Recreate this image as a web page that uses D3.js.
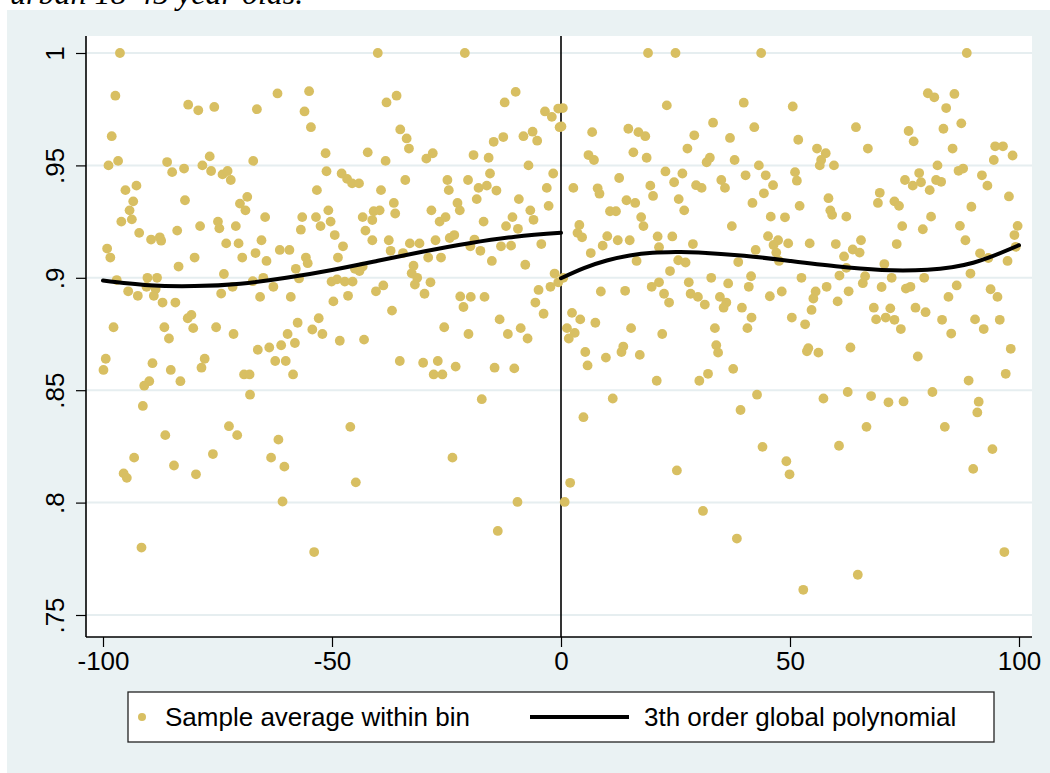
<!DOCTYPE html>
<html>
<head>
    <style>
        body {
            margin: 0;
            background: #ffffff;
            font-family: "Liberation Sans", Arial, Helvetica, sans-serif;
        }

        .tick text {
            font-size: 26px;
            fill: #000;
        }

        .tick line {
            stroke: #000;
            stroke-width: 1.2px;
        }

        .grid line {
            stroke: #e6eef0;
            stroke-width: 2px;
        }

        .legend-text {
            font-size: 26px;
            fill: #000;
        }
    </style>
</head>
<body>
    <div id="chart"></div>
    <script src="https://cdnjs.cloudflare.com/ajax/libs/d3/7.8.5/d3.min.js"></script>
    <script>
        // Bin averages, left of the cutoff
        const leftBins = [
            [-96.3,1.000],[-97.3,.981],[-98.1,.963],[-98.8,.950],[-96.7,.952],[-86.0,.9515],[-84.9,.947],[-95.1,.939],
            [-92.7,.941],[-93.4,.934],[-94.2,.930],[-96.0,.925],[-93.7,.926],[-92.1,.920],[-89.5,.917],[-87.6,.918],
            [-87.3,.9165],[-83.8,.921],[-99.1,.913],[-98.4,.909],[-83.5,.905],[-97.0,.899],[-90.3,.900],[-88.2,.900],
            [-94.5,.894],[-90.5,.896],[-88.5,.895],[-92.4,.892],[-88.9,.892],[-87.0,.889],[-84.2,.889],[-97.7,.878],
            [-86.6,.878],[-85.6,.873],[-99.4,.864],[-99.9,.859],[-89.2,.862],[-85.2,.859],[-89.9,.854],[-91.0,.852],
            [-83.1,.854],[-91.3,.843],[-86.4,.830],[-93.2,.820],[-95.5,.813],[-94.8,.811],[-84.5,.8165],[-91.6,.780],
            [-81.4,.977],[-79.2,.9745],[-75.7,.976],[-66.4,.975],[-82.3,.9486],[-78.3,.950],[-76.7,.954],[-76.4,.9475],
            [-73.9,.946],[-72.8,.9475],[-72.1,.9435],[-67.2,.952],[-82.1,.9345],[-70.1,.933],[-68.5,.936],[-68.9,.930],
            [-64.6,.927],[-78.8,.923],[-74.9,.925],[-74.6,.922],[-71.0,.923],[-73.1,.9153],[-70.4,.9153],[-65.4,.9167],
            [-80.0,.909],[-69.6,.909],[-66.7,.911],[-64.3,.9075],[-73.6,.9017],[-67.3,.8985],[-65.0,.900],[-71.7,.896],
            [-74.2,.893],[-62.8,.896],[-65.7,.8915],[-81.5,.882],[-80.7,.8835],[-80.3,.8776],[-75.3,.878],[-71.5,.875],
            [-66.2,.868],[-63.7,.869],[-62.4,.863],[-77.8,.864],[-78.5,.860],[-69.2,.857],[-68.0,.857],[-67.9,.848],
            [-72.5,.834],[-70.7,.830],[-76.0,.8216],[-79.7,.8126],[-63.3,.820],
            [-61.9,.982],[-55.0,.983],[-56.0,.974],[-54.6,.967],[-51.4,.9554],[-42.2,.9558],[-51.2,.9474],[-47.9,.9464],
            [-46.7,.944],[-45.6,.942],[-44.1,.942],[-53.3,.939],[-56.5,.927],[-53.5,.927],[-50.8,.930],[-50.3,.925],
            [-52.5,.923],[-56.8,.9214],[-49.4,.919],[-43.3,.927],[-42.7,.921],[-61.4,.9124],[-59.3,.9124],[-55.7,.909],
            [-55.3,.9065],[-57.9,.904],[-47.6,.914],[-48.7,.909],[-45.0,.904],[-43.3,.905],[-44.0,.903],[-57.2,.8997],
            [-50.1,.8983],[-48.9,.8993],[-47.2,.8983],[-45.5,.8983],[-59.0,.8915],[-49.7,.8895],[-46.5,.892],[-52.9,.882],
            [-57.5,.880],[-59.7,.875],[-54.3,.877],[-52.1,.875],[-58.1,.871],[-61.1,.870],[-48.3,.872],[-43.0,.8725],
            [-60.1,.863],[-58.5,.857],[-61.7,.828],[-60.4,.816],[-60.8,.8005],[-46.0,.8337],[-44.8,.809],[-53.9,.778],
            [-40.0,1.000],[-21.0,1.000],[-38.1,.978],[-35.9,.981],[-35.1,.966],[-33.7,.962],[-33.2,.9575],[-38.3,.952],
            [-29.4,.953],[-28.0,.9554],[-34.0,.9435],[-39.3,.939],[-24.8,.9435],[-24.5,.939],[-36.5,.9333],[-36.2,.9286],
            [-40.9,.9296],[-39.6,.930],[-41.2,.9257],[-28.3,.930],[-26.5,.925],[-25.2,.927],[-22.6,.9333],[-22.1,.930],
            [-41.2,.9167],[-37.6,.9167],[-33.0,.9153],[-30.9,.9153],[-27.4,.9167],[-24.3,.9177],[-23.3,.919],[-37.2,.912],
            [-34.5,.911],[-29.0,.909],[-26.2,.909],[-32.2,.9054],[-32.6,.902],[-31.4,.900],[-31.9,.897],[-28.5,.898],
            [-29.8,.8929],[-40.4,.894],[-38.8,.8966],[-36.9,.8854],[-25.5,.878],[-22.0,.8917],[-21.3,.887],[-35.2,.863],
            [-30.1,.8622],[-26.9,.863],[-27.8,.857],[-25.9,.857],[-23.0,.8605],[-23.7,.820],
            [-9.9,.9827],[-12.3,.978],[-3.5,.974],[-2.0,.9716],[-0.6,.9753],[-0.3,.967],[-8.2,.963],[-6.2,.965],
            [-5.2,.961],[-14.7,.9605],[-12.6,.9626],[-19.1,.9546],[-15.8,.9534],[-7.1,.950],[-1.7,.9464],[-20.3,.9435],
            [-18.0,.940],[-16.2,.941],[-15.5,.9464],[-18.4,.935],[-14.1,.9388],[-9.2,.935],[-3.1,.940],[-2.7,.932],
            [-6.7,.930],[-6.0,.9258],[-10.6,.927],[-12.0,.923],[-9.4,.9218],[-16.9,.925],[-18.9,.917],[-19.8,.914],
            [-17.6,.912],[-15.1,.9075],[-13.1,.914],[-10.9,.9143],[-7.8,.9058],[-4.3,.915],[-1.4,.9019],[-2.3,.896],
            [-0.6,.898],[-4.9,.8946],[-19.7,.8915],[-16.7,.8915],[-5.6,.889],[-3.8,.884],[-13.4,.8815],[-11.6,.875],
            [-8.8,.8776],[-7.3,.873],[-20.2,.875],[-14.5,.860],[-10.2,.8597],[-17.3,.846],[-9.5,.8003],[-13.8,.7874]
        ];

        // Bin averages, right of the cutoff
        const rightBins = [
            [19.0,1.000],[0.4,.9755],[0.1,.9673],[6.8,.9648],[14.7,.9663],[16.9,.9648],[18.4,.963],[6.0,.9546],
            [7.2,.9524],[15.8,.9558],[18.7,.9534],[2.7,.940],[8.0,.9398],[8.4,.9374],[12.7,.9444],[19.5,.941],
            [20.1,.9364],[14.3,.9345],[16.2,.9333],[10.7,.9296],[12.0,.9296],[17.5,.927],[18.0,.923],[4.0,.9235],
            [3.6,.920],[4.6,.918],[10.1,.9185],[9.1,.9143],[12.4,.9167],[15.0,.9167],[16.5,.9075],[6.5,.911],
            [0.5,.900],[8.7,.8939],[14.0,.8942],[19.8,.896],[2.4,.8844],[4.2,.8815],[7.5,.880],[1.3,.8776],
            [3.0,.8755],[1.7,.873],[15.3,.8776],[5.3,.867],[5.8,.861],[9.8,.8645],[13.2,.867],[13.6,.8694],
            [17.2,.8657],[11.3,.8463],[4.9,.838],[2.0,.8088],[0.8,.8003],
            [25.0,1.000],[23.1,.9767],[39.9,.9779],[33.2,.969],[29.1,.9634],[36.9,.9622],[27.6,.9575],[31.8,.9514],
            [32.5,.9534],[37.9,.9524],[22.8,.9473],[26.5,.9464],[24.7,.9425],[29.5,.9412],[30.7,.940],[35.0,.9435],
            [35.8,.940],[40.3,.9456],[25.7,.935],[26.9,.930],[37.3,.923],[21.1,.9184],[24.3,.9184],[21.4,.9136],
            [28.8,.915],[25.6,.9078],[27.2,.9068],[23.8,.903],[38.7,.907],[21.4,.898],[27.9,.898],[32.8,.900],
            [36.5,.8975],[41.0,.896],[22.5,.8929],[23.6,.889],[28.3,.8929],[29.9,.8915],[34.7,.8915],[36.1,.889],
            [35.5,.8867],[39.5,.8867],[31.4,.8881],[40.7,.8776],[33.6,.8776],[22.1,.875],[33.9,.870],[34.3,.8667],
            [37.6,.8595],[32.1,.8573],[30.2,.8542],[20.9,.8542],[39.2,.8412],[25.3,.8143],[31.0,.7963],[38.4,.784],
            [43.7,1.000],[50.6,.9762],[42.2,.967],[51.8,.9614],[55.9,.9575],[57.8,.9554],[56.8,.9524],[56.5,.950],
            [59.6,.950],[43.2,.950],[44.7,.9456],[46.3,.9412],[44.3,.9376],[41.8,.9333],[51.1,.947],[51.5,.9432],
            [52.1,.932],[58.4,.9354],[58.8,.930],[59.2,.928],[45.8,.9272],[48.9,.9269],[45.2,.9185],[47.4,.9167],
            [46.4,.9146],[47.0,.9112],[47.6,.9075],[49.6,.9153],[54.3,.9153],[60.0,.915],[42.5,.9124],[61.8,.9095],
            [52.5,.900],[41.5,.9007],[45.6,.8918],[48.2,.8939],[50.4,.8823],[53.3,.8793],[54.7,.8857],[55.1,.8908],
            [55.6,.8939],[58.0,.896],[60.4,.8895],[60.8,.901],[41.6,.8823],[53.7,.8673],[54.0,.8687],[56.2,.8667],
            [42.8,.848],[57.3,.8463],[44.0,.8248],[60.7,.8253],[49.2,.8184],[49.9,.8126],[52.9,.7612],
            [80.1,.9821],[81.5,.9803],[64.4,.967],[67.0,.9575],[75.9,.9653],[77.0,.9607],[82.2,.950],[75.1,.9435],
            [76.8,.941],[78.2,.9466],[78.6,.9425],[80.5,.939],[81.9,.9435],[69.6,.9378],[69.2,.9333],[72.8,.934],
            [73.8,.932],[62.3,.9272],[74.5,.923],[79.0,.9216],[80.8,.9272],[65.5,.9167],[63.7,.9126],[65.2,.9112],
            [73.3,.915],[70.6,.9061],[62.3,.9044],[66.4,.9007],[65.9,.8976],[62.8,.894],[72.2,.900],[70.0,.8959],
            [75.3,.8952],[76.3,.896],[79.3,.900],[68.3,.8867],[71.9,.8864],[68.8,.8815],[70.9,.8823],[72.8,.8813],
            [74.2,.8772],[77.4,.8867],[79.6,.8847],[63.2,.869],[77.9,.865],[62.6,.8492],[67.7,.8474],[71.5,.8446],
            [74.8,.845],[81.1,.8492],[66.7,.8337],[64.8,.7679],
            [88.6,1.000],[85.9,.9818],[84.1,.9755],[83.5,.9663],[87.4,.9687],[85.5,.9575],[94.8,.9585],[96.5,.9585],
            [94.5,.9524],[98.6,.9544],[86.8,.9476],[87.8,.9486],[83.0,.9427],[91.9,.9456],[93.1,.941],[97.8,.9362],
            [89.6,.9316],[87.1,.9231],[88.3,.9167],[99.7,.9231],[99.0,.919],[99.3,.9138],[91.5,.9109],[93.3,.9088],
            [97.5,.9075],[89.4,.9019],[86.4,.8966],[84.6,.8915],[93.8,.8949],[95.3,.8915],[83.2,.8813],[85.2,.8752],
            [90.4,.8815],[92.3,.8772],[95.8,.8813],[98.2,.8684],[97.1,.8573],[89.0,.8543],[91.2,.8449],[90.9,.8401],
            [83.8,.8337],[94.2,.8238],[90.0,.815],[96.8,.778]
        ];

        // Fitted polynomial
        const polyLeftX = [-100, -90, -80, -70, -60, -50, -40, -30, -20, -10, 0];
        const polyLeftY = [.8988, .8967, .8963, .8974, .9000, .9035, .9076, .9117, .9154, .9183, .9200];
        const polyRightX = [0, 5, 10, 15, 20, 25, 30, 40, 50, 60, 70, 80, 90, 100];
        const polyRightY = [.8998, .9043, .9077, .9099, .9111, .9115, .9113, .9098, .9075, .9051, .9035, .9036, .9067, .9145];

        const xTicks = [-100, -50, 0, 50, 100];
        const yTicks = [.75, .8, .85, .9, .95, 1];
        const yTickLabels = [".75", ".8", ".85", ".9", ".95", "1"];

        const dotColor = "#d8bf62";

        const W = 1050, H = 773;
        const margin = { top: 36, right: 18, bottom: 136, left: 86 };
        const width = W - margin.left - margin.right;
        const height = H - margin.top - margin.bottom;

        const root = d3.select("#chart")
            .append("svg")
            .attr("width", W)
            .attr("height", H);

        // graph region background
        root.append("rect")
            .attr("x", 7).attr("y", 10)
            .attr("width", W - 7).attr("height", H - 10)
            .attr("fill", "#eaf2f3");

        // caption above the graph, cut by the top edge as in the source
        root.append("text")
            .attr("x", 10)
            .attr("y", 4)
            .style("font-family", "'Liberation Serif', 'DejaVu Serif', serif")
            .style("font-style", "italic")
            .style("font-size", "32px")
            .text("urban 18-45 year olds.");

        const svg = root.append("g")
            .attr("transform", `translate(${margin.left},${margin.top})`);

        svg.append("rect")
            .attr("width", width)
            .attr("height", height)
            .attr("fill", "#fff");

        const x = d3.scaleLinear().domain([-100, 100]).range([17, 933]);
        const y = d3.scaleLinear().domain([.75, 1]).range([579, 17]);

        // gridlines
        svg.append("g")
            .attr("class", "grid")
            .selectAll("line")
            .data(yTicks)
            .enter()
            .append("line")
            .attr("x1", 0).attr("x2", width)
            .attr("y1", d => y(d)).attr("y2", d => y(d));

        // cutoff line
        svg.append("line")
            .attr("x1", x(0)).attr("x2", x(0))
            .attr("y1", 0).attr("y2", height)
            .attr("stroke", "#000")
            .attr("stroke-width", 1.6);

        // scatter
        svg.append("g")
            .selectAll("circle")
            .data(leftBins.concat(rightBins))
            .enter()
            .append("circle")
            .attr("cx", d => x(d[0]))
            .attr("cy", d => y(d[1]))
            .attr("r", 4.9)
            .attr("fill", dotColor);

        // polynomial fit, each side separately
        const line = d3.line()
            .x(d => x(d[0]))
            .y(d => y(d[1]))
            .curve(d3.curveNatural);

        [[polyLeftX, polyLeftY], [polyRightX, polyRightY]].forEach(([xs, ys]) => {
            svg.append("path")
                .datum(xs.map((v, i) => [v, ys[i]]))
                .attr("d", line)
                .attr("fill", "none")
                .attr("stroke", "#000")
                .attr("stroke-width", 4)
                .attr("stroke-linecap", "round");
        });

        // axes
        const yAxis = d3.axisLeft(y)
            .tickValues(yTicks)
            .tickFormat((d, i) => yTickLabels[i])
            .tickSize(10)
            .tickSizeOuter(0);

        const yAxisG = svg.append("g").call(yAxis);
        yAxisG.select(".domain").remove();
        yAxisG.selectAll("text")
            .attr("x", 0)
            .attr("dy", 0)
            .attr("text-anchor", "middle")
            .attr("transform", "translate(-22,0) rotate(-90)");

        const xAxis = d3.axisBottom(x)
            .tickValues(xTicks)
            .tickFormat(d3.format("d"))
            .tickSize(10)
            .tickPadding(5)
            .tickSizeOuter(0);

        const xAxisG = svg.append("g")
            .attr("transform", `translate(0,${height})`)
            .call(xAxis);
        xAxisG.select(".domain").remove();
        xAxisG.selectAll("text").text(d => String(d));

        svg.append("line")
            .attr("x1", 0).attr("x2", 0)
            .attr("y1", 0).attr("y2", height)
            .attr("stroke", "#000").attr("stroke-width", 1.6);
        svg.append("line")
            .attr("x1", 0).attr("x2", width)
            .attr("y1", height).attr("y2", height)
            .attr("stroke", "#000").attr("stroke-width", 1.6);

        // legend
        const legend = root.append("g").attr("transform", "translate(128,692)");
        legend.append("rect")
            .attr("width", 866)
            .attr("height", 50)
            .attr("fill", "#fff")
            .attr("stroke", "#222")
            .attr("stroke-width", 1.3);
        legend.append("circle")
            .attr("cx", 14).attr("cy", 25).attr("r", 4)
            .attr("fill", dotColor);
        legend.append("text")
            .attr("class", "legend-text")
            .attr("x", 37).attr("y", 34)
            .text("Sample average within bin");
        legend.append("line")
            .attr("x1", 402).attr("x2", 501)
            .attr("y1", 25).attr("y2", 25)
            .attr("stroke", "#000")
            .attr("stroke-width", 4);
        legend.append("text")
            .attr("class", "legend-text")
            .attr("x", 516).attr("y", 34)
            .text("3th order global polynomial");
    </script>
</body>
</html>
